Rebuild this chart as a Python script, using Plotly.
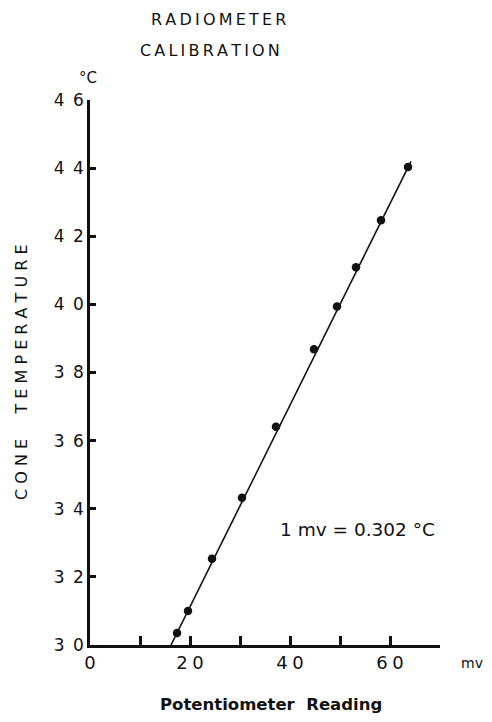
import plotly.graph_objects as go

# Data
reading_mv = [17.4, 19.6, 24.4, 30.4, 37.2, 44.8, 49.4, 53.2, 58.2, 63.6]
cone_temp_c = [30.35, 31.0, 32.53, 34.32, 36.41, 38.68, 39.94, 41.09, 42.47, 44.03]
fit_mv = [16.2, 64.2]
fit_temp = [30.0, 44.2]

x_ticks = [0, 10, 20, 30, 40, 50, 60, 70]
x_tick_text = ["0", "", "2\u20050", "", "4\u20050", "", "6\u20050", ""]
y_ticks = [30, 32, 34, 36, 38, 40, 42, 44, 46]
y_tick_text = ["3\u20020", "3\u20022", "3\u20024", "3\u20026", "3\u20028",
               "4\u20020", "4\u20022", "4\u20024", "4\u20026"]

FONT = "DejaVu Sans"
INK = "#111111"


def spaced(word, sep="\u2009"):
    return sep.join(word)


fig = go.Figure()
fig.add_trace(go.Scatter(x=fit_mv, y=fit_temp, mode="lines",
                         line=dict(color=INK, width=1.6), hoverinfo="skip",
                         showlegend=False))
fig.add_trace(go.Scatter(x=reading_mv, y=cone_temp_c, mode="markers",
                         marker=dict(color=INK, size=8.5, symbol="circle"),
                         showlegend=False))

ann_common = dict(xref="paper", yref="paper", showarrow=False,
                  xanchor="center", yanchor="middle")

fig.update_layout(
    width=476, height=706,
    margin=dict(l=82, r=44, t=92, b=69),
    paper_bgcolor="white", plot_bgcolor="white",
    font=dict(family=FONT, color=INK),
    xaxis=dict(range=[0, 70], tickvals=x_ticks, ticktext=x_tick_text,
               showgrid=False, zeroline=False, showline=True, linecolor=INK,
               linewidth=2.5, ticks="inside", ticklen=9, tickwidth=2.5,
               tickcolor=INK, tickfont=dict(size=18, family=FONT, color=INK)),
    yaxis=dict(range=[30, 46], tickvals=y_ticks, ticktext=y_tick_text,
               showgrid=False, zeroline=False, showline=True, linecolor=INK,
               linewidth=2.5, ticks="inside", ticklen=6, tickwidth=2.5,
               tickcolor=INK, tickfont=dict(size=17, family=FONT, color=INK)),
    annotations=[
        dict(text=spaced("RADIOMETER"), x=0.366, y=1.147,
             font=dict(size=16, family=FONT, color=INK), **ann_common),
        dict(text=spaced("CALIBRATION"), x=0.343, y=1.090,
             font=dict(size=16, family=FONT, color=INK), **ann_common),
        dict(text="°C", x=-0.006, y=1.040,
             font=dict(size=15, family=FONT, color=INK), **ann_common),
        dict(text="mv", x=1.09, y=-0.033,
             font=dict(size=14, family=FONT, color=INK), **ann_common),
        dict(text="<b>Potentiometer  Reading</b>", x=0.518, y=-0.110,
             font=dict(size=16.5, family=FONT, color=INK), **ann_common),
        dict(text="C O N E &nbsp; &nbsp; T E M P E R A T U R E", x=-0.194, y=0.501,
             textangle=-90, font=dict(size=16, family=FONT, color=INK), **ann_common),
        dict(text="1 mv = 0.302 °C", x=37.6, y=33.4, xref="x", yref="y",
             xanchor="left", yanchor="middle", showarrow=False,
             font=dict(size=18.5, family=FONT, color=INK)),
    ],
)

fig.write_html("out.html")
